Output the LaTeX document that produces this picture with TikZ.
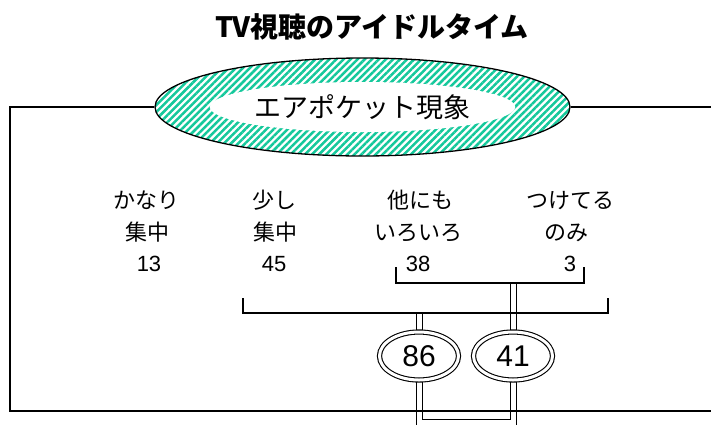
\documentclass[tikz,border=0pt]{standalone}
\usepackage{fontspec}
\setmainfont{Liberation Sans}
\newfontfamily\jp{Noto Sans CJK JP}
\usetikzlibrary{shapes.geometric,patterns.meta,backgrounds}
\definecolor{hatch}{RGB}{20,200,155}
\begin{document}
\begin{tikzpicture}[x=1pt,y=-1pt,
  lab/.style={font=\jp\fontsize{22}{22}\selectfont, anchor=base, inner sep=0pt},
  num/.style={font=\fontsize{22}{22}\selectfont, anchor=base, inner sep=0pt},
  ln/.style={line width=1.1pt},
  dbl/.style={double, double distance=5pt, line width=1pt},
  oval/.style={ellipse, draw, line width=1.1pt, double, double distance=3pt, fill=white,
    minimum width=79pt, minimum height=48pt, inner sep=0pt, font=\fontsize{30}{30}\selectfont}
]
\useasboundingbox (0,0) rectangle (711,424);

% title
\node[anchor=base, inner sep=0pt, font=\jp\bfseries\fontsize{28}{28}\selectfont] (title) at (372,37) {TV視聴のアイドルタイム};

% big hatched ellipse
\node[ellipse, draw, line width=1.3pt, minimum width=415pt, minimum height=98pt, inner sep=0pt,
  pattern={Lines[angle=45,distance=5pt,line width=2.5pt]}, pattern color=hatch] (big) at (362.5,107) {};
\node[ellipse, fill=white, minimum width=305pt, minimum height=50pt, inner sep=0pt,
  font=\jp\fontsize{27}{27}\selectfont] (air) at (362.5,107) {エアポケット現象};

% frame line
\coordinate (tl) at (10,107);
\coordinate (bl) at (10,411);
\coordinate (br) at (714,411);
\coordinate (tr) at (714,107);
\draw[ln] (big.west) -- (tl) -- (bl) -- (br);
\draw[ln] (big.east) -- (tr);

% labels
\node[lab] (a1) at (146,208) {かなり};
\node[lab] (a2) at (147,240) {集中};
\node[num] (a3) at (149,271) {13};
\node[lab] (b1) at (274,208) {少し};
\node[lab] (b2) at (275,240) {集中};
\node[num] (b3) at (274,271) {45};
\node[lab] (c1) at (420,208) {他にも};
\node[lab] (c2) at (418,240) {いろいろ};
\node[num] (c3) at (418,271) {38};
\node[lab] (d1) at (570,208) {つけてる};
\node[lab] (d2) at (566,240) {のみ};
\node[num] (d3) at (570,271) {3};

% brackets
\coordinate (s1) at (396,267);
\coordinate (s2) at (396,283);
\coordinate (s3) at (584,283);
\coordinate (s4) at (584,267);
\coordinate (sm) at (513,283);
\draw[ln] (s1) -- (s2) -- (s3) -- (s4);
\coordinate (g1) at (243,298);
\coordinate (g2) at (243,313);
\coordinate (g3) at (608,313);
\coordinate (g4) at (608,298);
\coordinate (gm) at (419,313);
\draw[ln] (g1) -- (g2) -- (g3) -- (g4);

% result ovals
\node[oval] (e86) at (419,356) {86};
\node[oval] (e41) at (513,356) {41};

\begin{scope}[on background layer]
\fill[white] (0,0) rectangle (711,424);
\draw[dbl] (gm) -- (e86.center);
\draw[dbl] (sm) -- (e41.center);
\coordinate (u1) at (422,419);
\coordinate (u2) at (510,419);
\draw[line width=1pt] ([xshift=3pt]e86.center) -- (u1) -- (u2) -- ([xshift=-3pt]e41.center);
\coordinate (f1) at (416,430);
\coordinate (f2) at (516,430);
\draw[line width=1pt] ([xshift=-3pt]e86.center) -- (f1);
\draw[line width=1pt] ([xshift=3pt]e41.center) -- (f2);
\end{scope}
\end{tikzpicture}
\end{document}
